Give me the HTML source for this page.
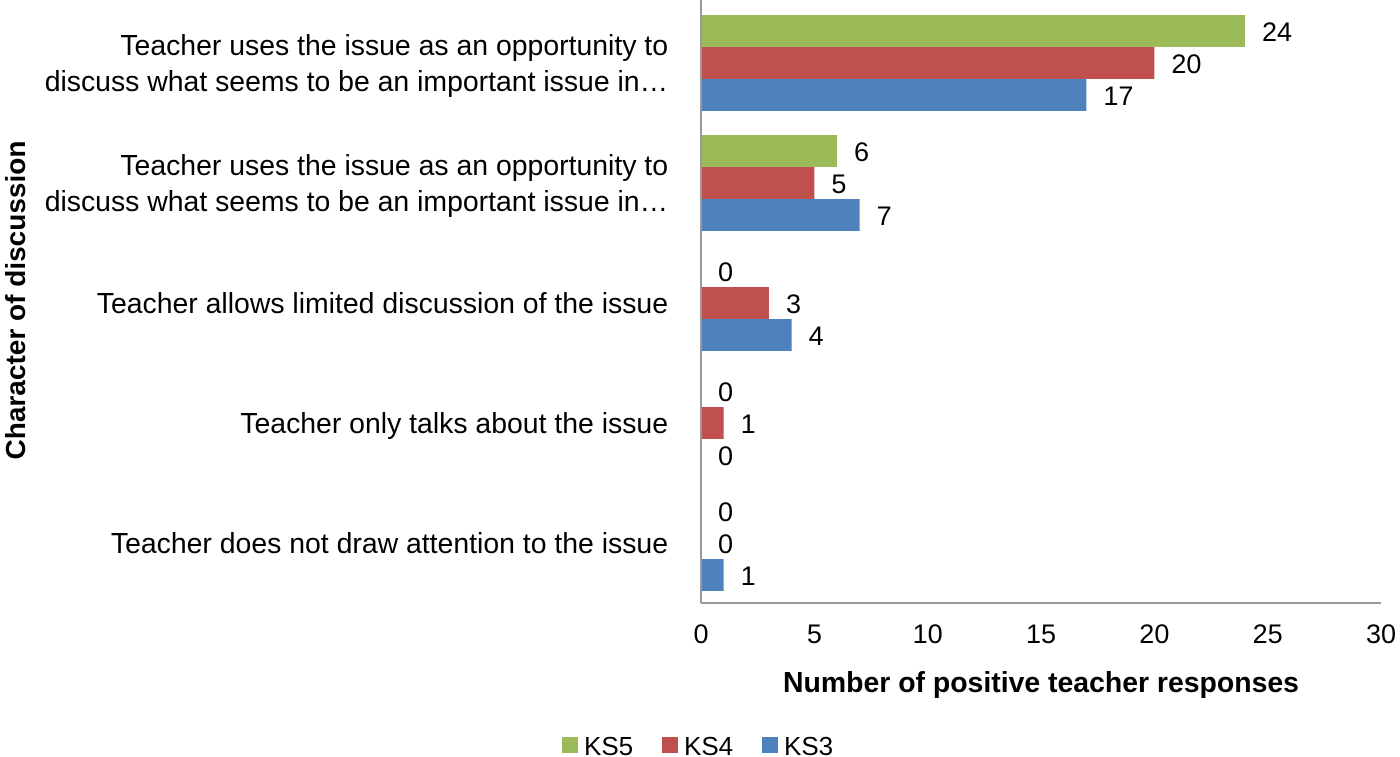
<!DOCTYPE html>
<html><head><meta charset="utf-8"><style>
body{margin:0;background:#fff;}
svg{display:block;font-family:"Liberation Sans",Calibri,sans-serif;}
</style></head><body>
<svg id="chart" width="1400" height="757" xmlns="http://www.w3.org/2000/svg"></svg>
<script>
const categories=[["Teacher uses the issue as an opportunity to","discuss what seems to be an important issue in…"],["Teacher uses the issue as an opportunity to","discuss what seems to be an important issue in…"],["Teacher allows limited discussion of the issue"],["Teacher only talks about the issue"],["Teacher does not draw attention to the issue"]];
const ks5=[24,6,0,0,0];
const ks4=[20,5,3,1,0];
const ks3=[17,7,4,0,1];
const seriesNames=["KS5","KS4","KS3"];
const xTicks=[0,5,10,15,20,25,30];

const NS="http://www.w3.org/2000/svg";
const svg=document.getElementById('chart');
const L=701,R=1381,T=3,B=603;
const xs=v=>L+v*(R-L)/30;
const band=(B-T)/categories.length;
const colors=["#9bbb59","#c0504d","#4f81bd"];
const series=[ks5,ks4,ks3];
function mk(tag,attrs,txt){const e=document.createElementNS(NS,tag);for(const k in attrs)e.setAttribute(k,attrs[k]);if(txt!==undefined)e.textContent=txt;svg.appendChild(e);return e;}

categories.forEach((lines,i)=>{
  const cy=T+band*i+band/2;
  series.forEach((s,j)=>{
    const y=cy-48+j*32;
    const r=mk('rect',{x:L,y:y,width:xs(s[i])-L,height:32,fill:colors[j]});
    
    
    const t=mk('text',{x:xs(s[i])+17,y:y+26,'font-size':27,fill:'#000'},String(s[i]));
    
    
  });
  const n=lines.length;
  lines.forEach((ln,k)=>{
    const t=mk('text',{x:668,y:cy+10+(k-(n-1)/2)*36,'text-anchor':'end','font-size':28.4,fill:'#000'},ln);
    
    
  });
});
const ax=mk('line',{x1:L,y1:T-3,x2:L,y2:B,stroke:'#999','stroke-width':2});

const bx=mk('line',{x1:L,y1:B,x2:R,y2:B,stroke:'#999','stroke-width':2});

xTicks.forEach(v=>{
  const t=mk('text',{x:xs(v),y:643,'text-anchor':'middle','font-size':27,fill:'#000'},String(v));
  
  
});
const xt=mk('text',{x:1041,y:692,'text-anchor':'middle','font-size':28.4,'font-weight':'bold',fill:'#000'},'Number of positive teacher responses');

const yt=mk('text',{x:0,y:0,transform:'translate(25,300) rotate(-90)','text-anchor':'middle','font-size':28,'font-weight':'bold',fill:'#000'},'Character of discussion');

const lx=[562,662,762];
seriesNames.forEach((nm,j)=>{
  const r=mk('rect',{x:lx[j],y:737,width:16,height:16,fill:colors[j]});
  
  const t=mk('text',{x:lx[j]+22,y:755,'font-size':26,fill:'#000'},nm);
  
});
</script>
</body></html>
